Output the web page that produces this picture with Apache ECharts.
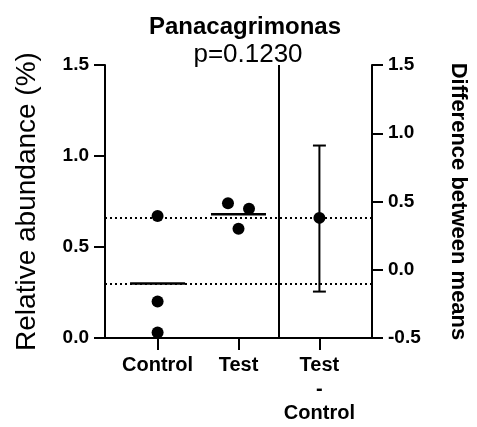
<!DOCTYPE html>
<html>
<head>
<meta charset="utf-8">
<script src="https://cdn.jsdelivr.net/npm/echarts@6/dist/echarts.min.js"></script>
<style>
  html, body { margin: 0; padding: 0; background: #fff; }
  #chart { width: 477px; height: 427px; }
</style>
</head>
<body>
<div id="chart"></div>
<script>
// group positions on the hidden x value axis
const categories = ['Control', 'Test', 'Test\n-\nControl']
const categoryX = [1, 2, 3]

// relative abundance (%)
const controlValues = [0.67, 0.20, 0.03]
const testValues = [0.74, 0.60, 0.71]
const testJitter = [-0.13, 0, 0.13]
const controlMean = 0.30
const testMean = 0.68
const refLines = [0.30, 0.66]

// difference between means (right axis)
const meanDiff = 0.38
const ciLow = -0.16
const ciHigh = 0.91

const leftTicks = { min: 0, max: 1.5, interval: 0.5 }
const rightTicks = { min: -0.5, max: 1.5, interval: 0.5 }

const font = 'Liberation Sans, Arial, Helvetica, sans-serif'
const black = '#000'
const meanHalf = 0.34
const capHalf = 0.08

const chart = echarts.init(document.getElementById('chart'))

const yAxisBase = {
  type: 'value',
  interval: 0.5,
  axisLine: { show: true, lineStyle: { color: black, width: 2 } },
  axisTick: { show: true, length: 11, lineStyle: { color: black, width: 2 } },
  axisLabel: {
    color: black, fontFamily: font, fontWeight: 'bold', fontSize: 19, margin: 16,
    formatter: v => v.toFixed(1)
  },
  splitLine: { show: false }
}

const dot = { color: black, opacity: 1 }

const option = {
  animation: false,
  backgroundColor: '#fff',
  title: [
    {
      text: 'Panacagrimonas',
      left: 240, top: 10, textAlign: 'center',
      textStyle: { fontFamily: font, fontWeight: 'bold', fontSize: 24, color: black }
    },
    {
      text: 'p=0.1230',
      left: 243, top: 37, textAlign: 'center',
      textStyle: { fontFamily: font, fontWeight: 'normal', fontSize: 26, color: black }
    }
  ],
  grid: { left: 105, right: 99, top: 65, bottom: 89 },
  xAxis: [
    {
      type: 'value',
      min: 0.35,
      max: 3.65,
      axisLine: { show: true, onZero: false, lineStyle: { color: black, width: 2 } },
      axisTick: { show: true, length: 12, customValues: categoryX, lineStyle: { color: black, width: 2 } },
      axisLabel: {
        customValues: categoryX,
        color: black, fontFamily: font, fontWeight: 'bold', fontSize: 20,
        lineHeight: 24, margin: 15,
        formatter: v => categories[categoryX.indexOf(Math.round(v))] || ''
      },
      splitLine: { show: false }
    },
    {
      type: 'value',
      position: 'top',
      min: 0.35,
      max: 3.65,
      axisLine: { show: true, lineStyle: { color: black, width: 2 } },
      axisTick: { show: false },
      axisLabel: { show: false },
      splitLine: { show: false }
    }
  ],
  yAxis: [
    Object.assign({}, yAxisBase, leftTicks, {
      position: 'left',
      name: 'Relative abundance (%)',
      nameLocation: 'middle',
      nameGap: 64,
      nameTextStyle: { fontFamily: font, fontSize: 28, color: black }
    }),
    Object.assign({}, yAxisBase, rightTicks, {
      position: 'right',
      name: 'Difference between means',
      nameLocation: 'middle',
      nameRotate: -90,
      nameGap: 75,
      nameTextStyle: { fontFamily: font, fontWeight: 'bold', fontSize: 22, color: black }
    })
  ],
  series: [
    {
      name: 'refs',
      type: 'line',
      data: [],
      markLine: {
        silent: true,
        symbol: 'none',
        label: { show: false },
        lineStyle: { color: black, width: 2, type: [2, 3] },
        data: refLines.map(v => ({ yAxis: v }))
      }
    },
    {
      name: 'divider',
      type: 'line',
      data: [],
      markLine: {
        silent: true,
        symbol: 'none',
        label: { show: false },
        lineStyle: { color: black, width: 2, type: 'solid' },
        data: [{ xAxis: 2.5 }]
      }
    },
    {
      name: 'Control mean',
      type: 'line',
      symbol: 'none',
      lineStyle: { color: black, width: 2.5 },
      data: [[1 - meanHalf, controlMean], [1 + meanHalf, controlMean]]
    },
    {
      name: 'Test mean',
      type: 'line',
      symbol: 'none',
      lineStyle: { color: black, width: 2.5 },
      data: [[2 - meanHalf, testMean], [2 + meanHalf, testMean]]
    },
    {
      name: 'Control',
      type: 'scatter',
      symbolSize: 12,
      itemStyle: dot,
      data: controlValues.map(v => [categoryX[0], v])
    },
    {
      name: 'Test',
      type: 'scatter',
      symbolSize: 12,
      itemStyle: dot,
      data: testValues.map((v, i) => [categoryX[1] + testJitter[i], v])
    },
    {
      name: 'CI',
      type: 'line',
      yAxisIndex: 1,
      symbol: 'none',
      lineStyle: { color: black, width: 2 },
      data: [[categoryX[2], ciLow], [categoryX[2], ciHigh]]
    },
    {
      name: 'CI cap high',
      type: 'line',
      yAxisIndex: 1,
      symbol: 'none',
      lineStyle: { color: black, width: 2 },
      data: [[categoryX[2] - capHalf, ciHigh], [categoryX[2] + capHalf, ciHigh]]
    },
    {
      name: 'CI cap low',
      type: 'line',
      yAxisIndex: 1,
      symbol: 'none',
      lineStyle: { color: black, width: 2 },
      data: [[categoryX[2] - capHalf, ciLow], [categoryX[2] + capHalf, ciLow]]
    },
    {
      name: 'Difference',
      type: 'scatter',
      yAxisIndex: 1,
      symbolSize: 12,
      itemStyle: dot,
      data: [[categoryX[2], meanDiff]]
    }
  ]
}

chart.setOption(option)
</script>
</body>
</html>
